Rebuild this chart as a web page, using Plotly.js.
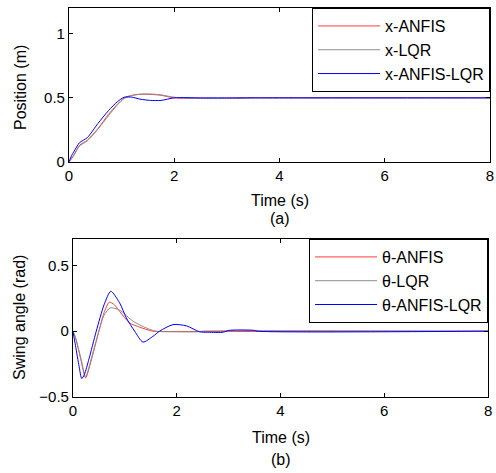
<!DOCTYPE html>
<html>
<head>
<meta charset="utf-8">
<script src="https://cdn.plot.ly/plotly-3.0.1.min.js"></script>
<style>html,body{margin:0;padding:0;background:#fff;}#chart{width:496px;height:473px;}</style>
</head>
<body>
<div id="chart"></div>
<script>
// ---- Data ----
var seriesNamesPos = ["x-ANFIS", "x-LQR", "x-ANFIS-LQR"];
var seriesNamesAng = ["\u03b8-ANFIS", "\u03b8-LQR", "\u03b8-ANFIS-LQR"];

var tPos = [0, 0.05, 0.1, 0.2, 0.35, 0.55, 0.75, 0.92, 1.05, 1.2, 1.35, 1.55, 1.75, 2.0, 2.5, 3.0, 3.5, 4.0, 8.0];
var posANFIS    = [0, 0.03, 0.06, 0.13, 0.17, 0.26, 0.37, 0.45, 0.50, 0.52, 0.528, 0.527, 0.52, 0.50, 0.497, 0.496, 0.5, 0.5, 0.5];
var posLQR      = [0, 0.025, 0.055, 0.125, 0.165, 0.255, 0.36, 0.445, 0.495, 0.518, 0.528, 0.53, 0.523, 0.505, 0.495, 0.495, 0.5, 0.5, 0.5];
var posANFISLQR = [0, 0.05, 0.085, 0.15, 0.19, 0.30, 0.40, 0.47, 0.505, 0.505, 0.49, 0.48, 0.48, 0.5, 0.5, 0.5, 0.5, 0.5, 0.5];

var tAngANFIS = [0, 0.05, 0.15, 0.245, 0.34, 0.5, 0.6, 0.7, 0.8, 0.9, 1.09, 1.29, 1.54, 2.0, 8];
var angANFIS  = [0, -0.05, -0.21, -0.355, -0.24, 0.0, 0.14, 0.22, 0.2, 0.15, 0.063, 0.03, 0.0, -0.002, 0];

var tAngLQR = [0, 0.05, 0.15, 0.245, 0.34, 0.5, 0.6, 0.72, 0.9, 1.16, 1.41, 1.6, 2.0, 2.4, 2.5, 8];
var angLQR  = [0, -0.05, -0.2, -0.345, -0.23, 0.0, 0.12, 0.177, 0.16, 0.075, 0.025, 0.0, -0.005, -0.005, 0, 0];

var tAngANFISLQR = [0, 0.05, 0.12, 0.17, 0.22, 0.31, 0.45, 0.6, 0.73, 0.9, 1.03, 1.19, 1.35, 1.54, 1.67, 1.93, 2.19, 2.44, 2.6, 2.9, 3.0, 3.5, 3.55, 8];
var angANFISLQR  = [0, -0.11, -0.27, -0.36, -0.33, -0.21, 0.0, 0.2, 0.303, 0.215, 0.10, 0.0, -0.083, -0.04, 0.0, 0.05, 0.04, -0.005, -0.008, -0.008, 0.006, 0.006, 0, 0];

var xTicks = [0, 2, 4, 6, 8];
var yTicksPos = [0, 0.5, 1];
var yTicksAng = [-0.5, 0, 0.5];

var xTitle = "Time (s)";
var yTitlePos = "Position (m)";
var yTitleAng = "Swing angle (rad)";
var panelLabels = ["(a)", "(b)"];

// ---- Styles ----
var W = 496, H = 473;
var FONT = "Liberation Sans, Arial, sans-serif";
var cRed = "rgb(255,60,60)", cGray = "rgb(140,140,140)", cBlue = "rgb(0,0,255)";

function tr(x, y, name, color, xa, ya, lg) {
  return {x: x, y: y, name: name, type: "scatter", mode: "lines",
    line: {color: color, width: 1, shape: "spline", smoothing: 0.7},
    xaxis: xa, yaxis: ya, legend: lg};
}

var data = [
  tr(tPos, posANFIS, seriesNamesPos[0], cRed, "x", "y", "legend"),
  tr(tPos, posLQR, seriesNamesPos[1], cGray, "x", "y", "legend"),
  tr(tPos, posANFISLQR, seriesNamesPos[2], cBlue, "x", "y", "legend"),
  tr(tAngANFIS, angANFIS, seriesNamesAng[0], cRed, "x2", "y2", "legend2"),
  tr(tAngLQR, angLQR, seriesNamesAng[1], cGray, "x2", "y2", "legend2"),
  tr(tAngANFISLQR, angANFISLQR, seriesNamesAng[2], cBlue, "x2", "y2", "legend2")
];

function xax(domain, anchor) {
  return {domain: domain, anchor: anchor, range: [0, 8], tickvals: xTicks,
    ticks: "inside", ticklen: 4, tickcolor: "#000", showline: true, linecolor: "#000", linewidth: 1,
    mirror: "ticks", showgrid: false, zeroline: false,
    tickfont: {family: FONT, size: 15, color: "#000"}};
}
function yax(domain, anchor, range, ticks) {
  return {domain: domain, anchor: anchor, range: range, tickvals: ticks,
    ticks: "inside", ticklen: 4, tickcolor: "#000", showline: true, linecolor: "#000", linewidth: 1,
    mirror: "ticks", showgrid: false, zeroline: false,
    tickfont: {family: FONT, size: 15, color: "#000"}};
}

var legendStyle = {xanchor: "right", yanchor: "top", bgcolor: "#fff", bordercolor: "#000", borderwidth: 1,
  font: {family: FONT, size: 16, color: "#000"}, itemwidth: 62, tracegroupgap: 0};

function px(xp) { return xp / W; }
function py(yp) { return 1 - yp / H; }
function ann(text, xp, yp, angle) {
  return {text: text, xref: "paper", yref: "paper", x: px(xp), y: py(yp), xanchor: "center", yanchor: "middle",
    showarrow: false, textangle: angle || 0, font: {family: FONT, size: 16, color: "#000"}};
}

var layout = {
  width: W, height: H,
  margin: {l: 0, r: 0, t: 0, b: 0},
  paper_bgcolor: "#fff", plot_bgcolor: "#fff",
  xaxis: xax([0.139, 0.988], "y"),
  yaxis: yax([0.6575, 0.983], "x", [0, 1.2], yTicksPos),
  xaxis2: xax([0.147, 0.984], "y2"),
  yaxis2: yax([0.1607, 0.4947], "x2", [-0.5, 0.7], yTicksAng),
  legend: Object.assign({x: 0.988, y: 0.983}, legendStyle),
  legend2: Object.assign({x: 0.984, y: 0.4947}, legendStyle),
  showlegend: true,
  annotations: [
    ann(xTitle, 280, 200),
    ann(panelLabels[0], 280, 218),
    ann(yTitlePos, 20, 88, -90),
    ann(xTitle, 281, 437),
    ann(panelLabels[1], 281, 459),
    ann(yTitleAng, 19, 318, -90)
  ]
};

Plotly.newPlot("chart", data, layout, {staticPlot: true, displayModeBar: false});
</script>
</body>
</html>
